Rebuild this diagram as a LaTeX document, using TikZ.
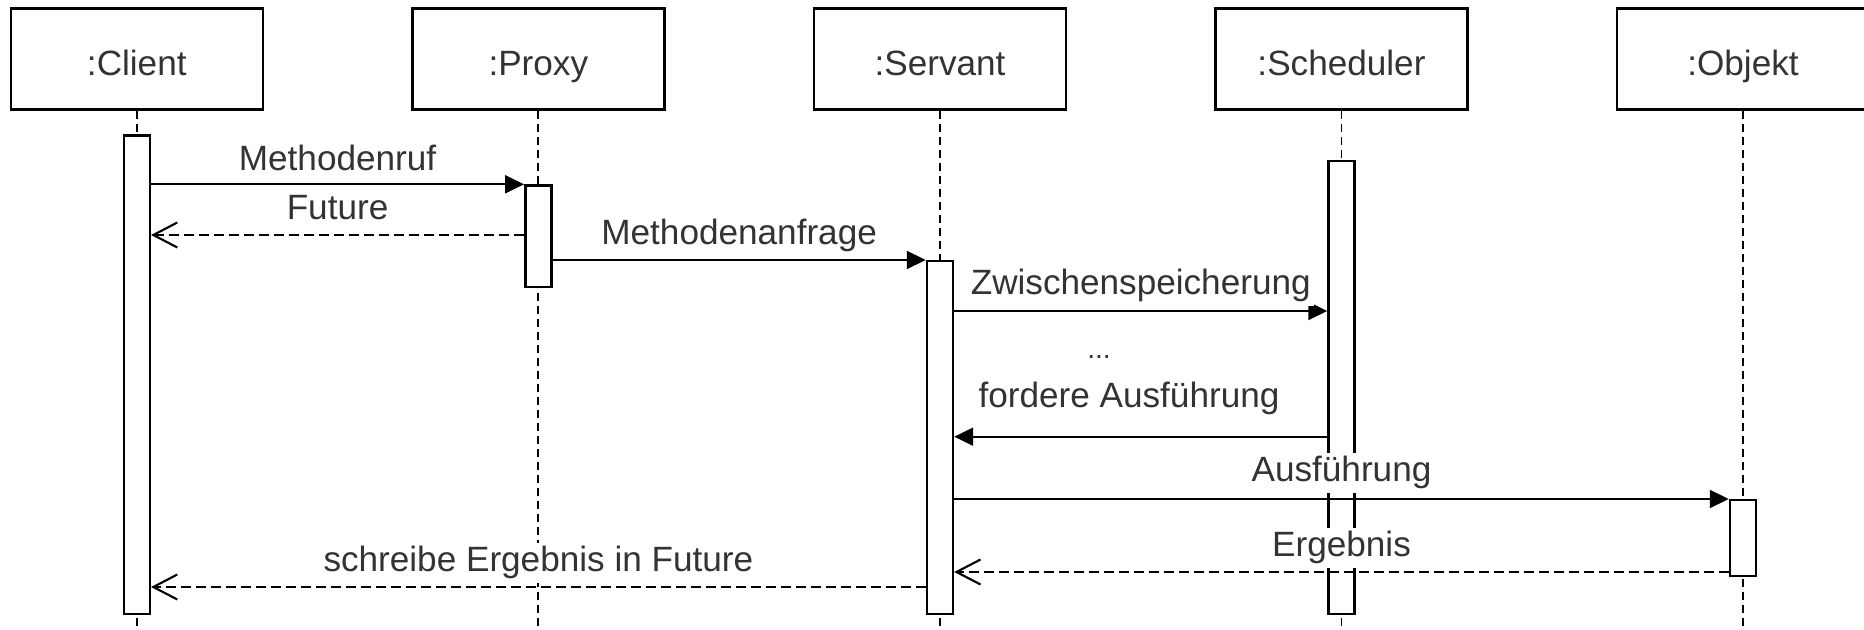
\documentclass[tikz,border=0pt]{standalone}
\usepackage{fontspec}
\setmainfont{Liberation Sans}
\usetikzlibrary{arrows.meta}
\definecolor{labelgray}{HTML}{333333}

\begin{document}
\begin{tikzpicture}[every node/.style={font=\fontsize{10}{12}\selectfont, text=labelgray},
	role/.style={draw=black, line width=0.7pt, minimum width=2.52cm, minimum height=1.01cm, inner sep=0pt, text height=0.34cm, text depth=0pt},
	act/.style={draw=black, fill=white, line width=0.7pt, minimum width=0.26cm, inner sep=0pt, anchor=north},
	life/.style={black, line width=0.5pt, dash pattern=on 0.08cm off 0.05cm},
	call/.style={-{Triangle[length=0.19cm, width=0.18cm]}, line width=0.6pt},
	reply/.style={-{Straight Barb[length=0.24cm, width=0.25cm]}, line width=0.6pt, dash pattern=on 0.1cm off 0.05cm},
	msg/.style={fill=white, inner sep=1pt, anchor=base}]
	\useasboundingbox (0,0) rectangle (18.64,-6.30);
	\clip (0,0) rectangle (18.64,-6.30);
	% objects
	\node[role] (cl) at (1.368,-0.588) {:Client};
	\node[role] (px) at (5.383,-0.588) {:Proxy};
	\node[role] (sv) at (9.40,-0.588) {:Servant};
	\node[role] (sc) at (13.415,-0.588) {:Scheduler};
	\node[role] (ob) at (17.43,-0.588) {:Objekt};
	% lifelines
	\draw[life] (cl.south) -- (cl.south |- 0,-6.30);
	\draw[life] (px.south) -- (px.south |- 0,-6.30);
	\draw[life] (sv.south) -- (sv.south |- 0,-6.30);
	\draw[life] (sc.south) -- (sc.south |- 0,-6.30);
	\draw[life] (ob.south) -- (ob.south |- 0,-6.30);
	% activations
	\node[act, minimum height=4.784cm] (ca) at (1.368,-1.343) {};
	\node[act, minimum height=1.017cm] (pa) at (5.383,-1.843) {};
	\node[act, minimum height=3.53cm] (sa) at (9.40,-2.60) {};
	\node[act, minimum height=4.526cm] (sca) at (13.415,-1.60) {};
	\node[act, minimum height=0.76cm] (oa) at (17.43,-4.99) {};
	% messages
	\draw[call] (ca.east |- pa.north) -- node[msg, midway, yshift=0.14cm] (l-ruf) {Methodenruf} (pa.north west);
	\draw[reply] (pa.west |- 0,-2.35) -- node[msg, midway, yshift=0.15cm] (l-fut) {Future} (ca.east |- 0,-2.35);
	\draw[call] (pa.east |- sa.north) -- node[msg, midway, yshift=0.15cm] (l-anf) {Methodenanfrage} (sa.north west);
	\draw[call] (sa.east |- 0,-3.11) -- node[msg, midway, yshift=0.16cm] (l-zw) {Zwischenspeicherung} (sca.west |- 0,-3.11);
	\node[font=\fontsize{8}{9}\selectfont] (dots) at (10.99,-3.57) {...};
	\draw[call] (sca.west |- 0,-4.367) -- (sa.east |- 0,-4.367);
	\node[msg] (l-ford) at (11.29,-4.08) {fordere Ausführung};
	\draw[call] (sa.east |- oa.north) -- node[msg, midway, yshift=0.17cm] (l-aus) {Ausführung} (oa.north west);
	\draw[reply] (oa.west |- 0,-5.72) -- node[msg, midway, yshift=0.15cm] (l-erg) {Ergebnis} (sa.east |- 0,-5.72);
	\draw[reply] (sa.west |- 0,-5.87) -- node[msg, midway, yshift=0.15cm] (l-schr) {schreibe Ergebnis in Future} (ca.east |- 0,-5.87);
\end{tikzpicture}
\end{document}
